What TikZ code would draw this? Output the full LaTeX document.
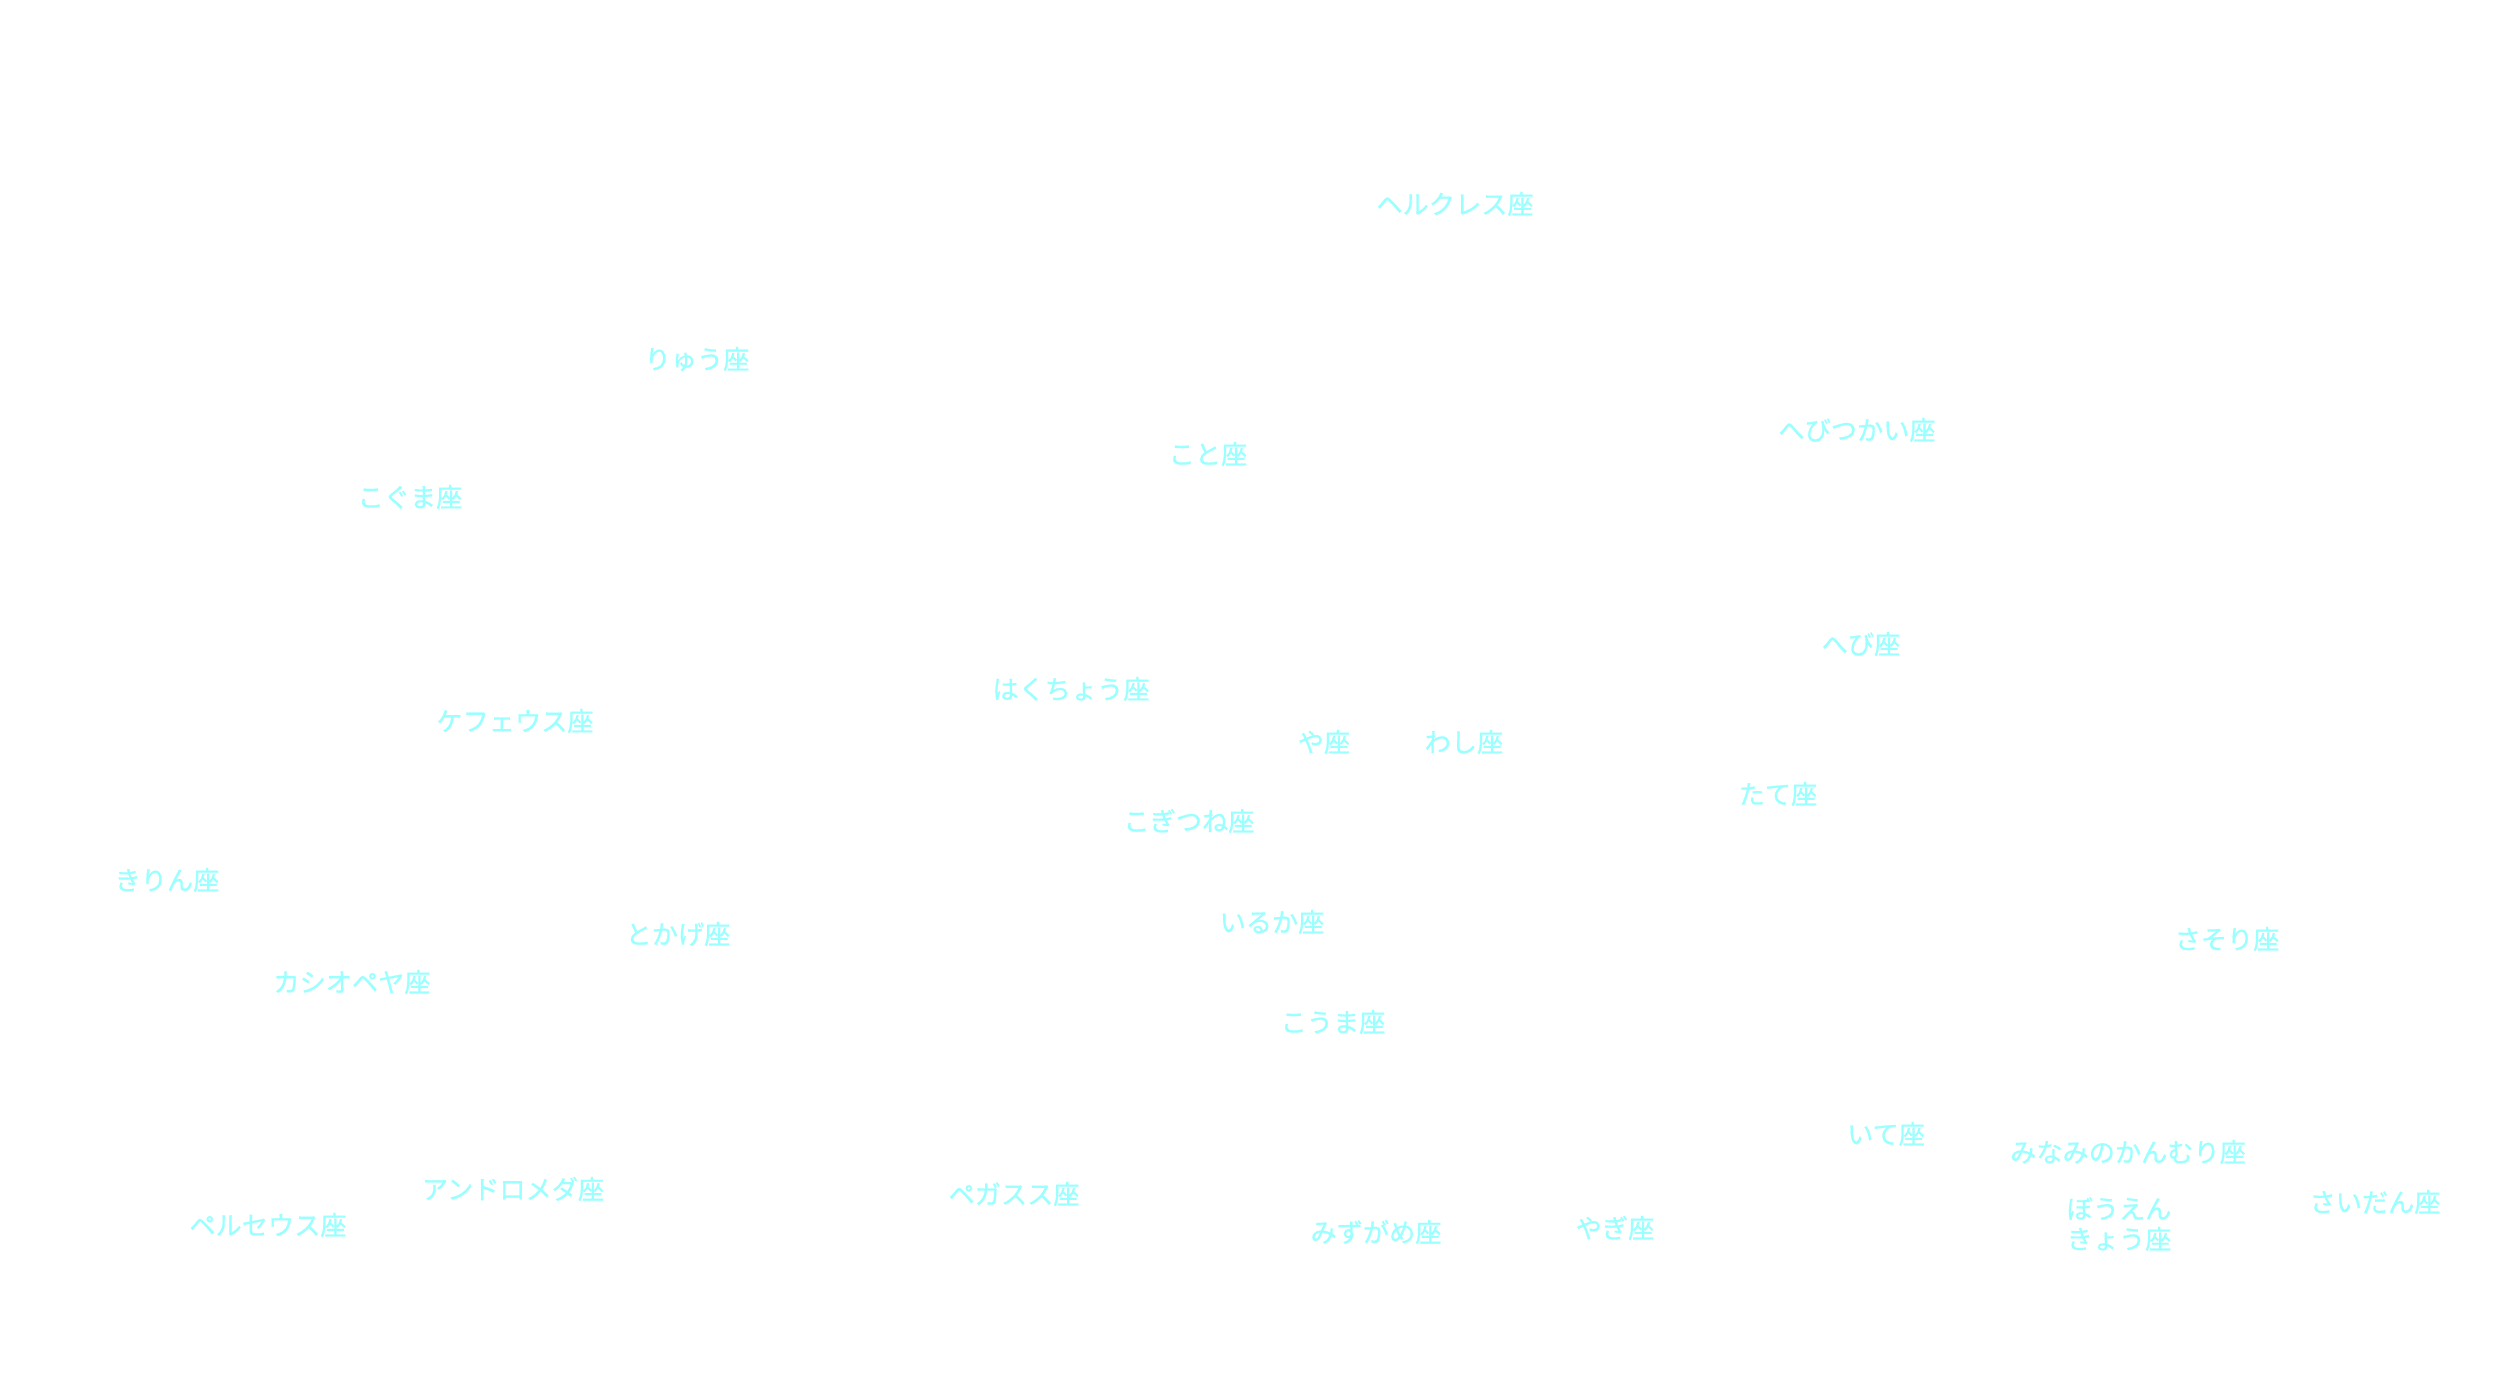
\documentclass[tikz,border=0pt]{standalone}
\usepackage{fontspec}
\newfontfamily\jpfont[FakeBold=0.6]{Noto Sans CJK JP}
\definecolor{lbl}{RGB}{153,255,255}
\begin{document}
\begin{tikzpicture}[x=0.01cm,y=-0.01cm,
  lab/.style={text=lbl,font=\jpfont\fontsize{7.45pt}{8.6pt}\selectfont,inner sep=0pt,align=center}]
\fill[white] (0,0) rectangle (2500,1400);
\useasboundingbox (0,0) rectangle (2500,1400);
\node[lab] (herc) at (1455,204) {ヘルクレス座};
\node[lab] (dra) at (697,359) {りゅう座};
\node[lab] (lyr) at (1208,454) {こと座};
\node[lab] (oph) at (1857,430) {へびつかい座};
\node[lab] (umi) at (410,497) {こぐま座};
\node[lab] (ser) at (1861,644) {へび座};
\node[lab] (cyg) at (1071,689) {はくちょう座};
\node[lab] (cep) at (515,721) {ケフェウス座};
\node[lab] (sge) at (1324,742) {や座};
\node[lab] (aql) at (1464,742) {わし座};
\node[lab] (sct) at (1778,794) {たて座};
\node[lab] (vul) at (1189,821) {こぎつね座};
\node[lab] (cam) at (167,880) {きりん座};
\node[lab] (del) at (1272,922) {いるか座};
\node[lab] (lac) at (678,934) {とかげ座};
\node[lab] (sco) at (2227,939) {さそり座};
\node[lab] (cas) at (352,982) {カシオペヤ座};
\node[lab] (equ) at (1333,1022) {こうま座};
\node[lab] (sgr) at (1886,1134) {いて座};
\node[lab] (cra) at (2128,1152) {みなみのかんむり座};
\node[lab] (tel) at (2119,1224) {ぼうえん\\きょう座};
\node[lab] (ara) at (2375,1202) {さいだん座};
\node[lab] (and) at (513,1189) {アンドロメダ座};
\node[lab] (per) at (268,1225) {ペルセウス座};
\node[lab] (peg) at (1014,1194) {ペガスス座};
\node[lab] (aqr) at (1376,1232) {みずがめ座};
\node[lab] (cap) at (1615,1228) {やぎ座};
\end{tikzpicture}
\end{document}
